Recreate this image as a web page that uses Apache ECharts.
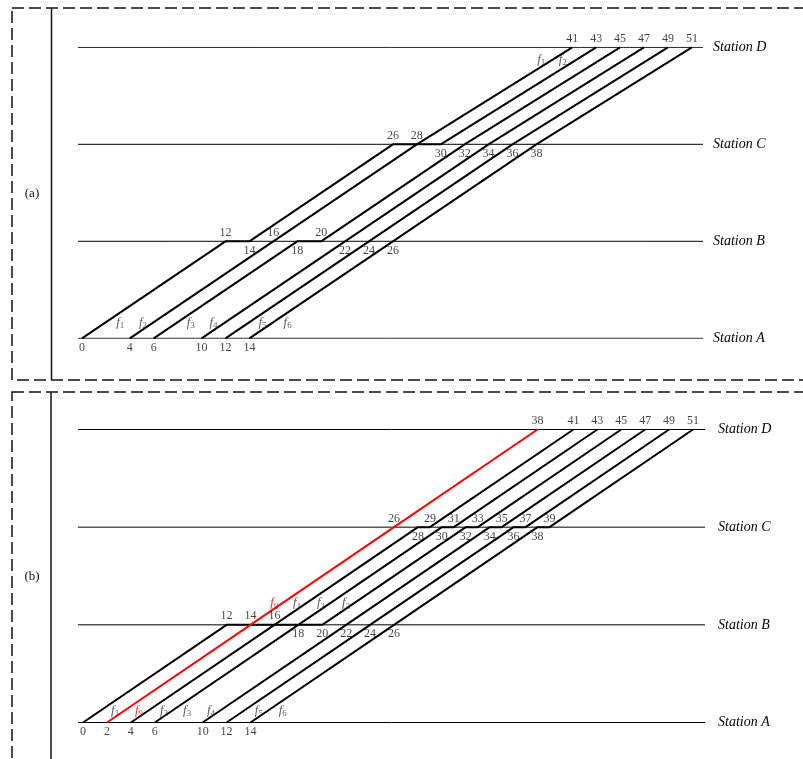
<!DOCTYPE html>
<html>
<head>
<meta charset="utf-8">
<script src="https://cdn.jsdelivr.net/npm/echarts@6/dist/echarts.min.js"></script>
<style>
html,body{margin:0;padding:0;background:#fff;}
#chart{width:803px;height:759px;}
</style>
</head>
<body>
<div id="chart"></div>
<script>
// ---------- data ----------
const stations = ['Station A', 'Station B', 'Station C', 'Station D'];

// Panel (a): train paths [time, stationIndex]
const a_f1 = [[0,0],[12,1],[14,1],[26,2],[28,2],[41,3]];
const a_f2 = [[4,0],[16,1],[28,2],[30,2],[43,3]];
const a_f3 = [[6,0],[18,1],[20,1],[32,2],[45,3]];
const a_f4 = [[10,0],[22,1],[34,2],[47,3]];
const a_f5 = [[12,0],[24,1],[36,2],[49,3]];
const a_f6 = [[14,0],[26,1],[38,2],[51,3]];

// Panel (a): time labels
const a_A_below = [0,4,6,10,12,14];
const a_B_above = [12,16,20];
const a_B_below = [14,18,22,24,26];
const a_C_above = [26,28];
const a_C_below = [30,32,34,36,38];
const a_D_above = [41,43,45,47,49,51];

// Panel (a): train name annotations [time, station, subscript]
const a_names = [[3.2,0.165,'1'],[5.1,0.165,'2'],[9.1,0.165,'3'],[11.0,0.165,'4'],[15.1,0.165,'5'],[17.2,0.165,'6'],
                 [38.4,2.876,'1'],[40.2,2.876,'2']];

// Panel (b): train paths
const b_f1 = [[0,0],[12,1],[16,1],[28,2],[29,2],[41,3]];
const b_f9 = [[2,0],[14,1],[26,2],[38,3]];
const b_f2 = [[4,0],[16,1],[18,1],[30,2],[31,2],[43,3]];
const b_f3 = [[6,0],[18,1],[20,1],[32,2],[33,2],[45,3]];
const b_f4 = [[10,0],[22,1],[34,2],[35,2],[47,3]];
const b_f5 = [[12,0],[24,1],[36,2],[37,2],[49,3]];
const b_f6 = [[14,0],[26,1],[38,2],[39,2],[51,3]];

// Panel (b): time labels
const b_A_below = [0,2,4,6,10,12,14];
const b_B_above = [12,14,16];
const b_B_below = [18,20,22,24,26];
const b_C_above = [26,29,31,33,35,37,39];
const b_C_below = [28,30,32,34,36,38];
const b_D_above = [38,41,43,45,47,49,51];

// Panel (b): train name annotations
const b_names_black = [[2.68,0.123,'1'],[6.77,0.123,'2'],[8.7,0.123,'3'],[10.7,0.123,'4'],[14.7,0.123,'5'],[16.7,0.123,'6'],
                       [17.9,1.226,'1'],[19.9,1.226,'2'],[22.0,1.226,'3']];
const b_names_red = [[4.68,0.123,'9'],[16.0,1.226,'9']];

// axis extents (time units)
const a_range = [-0.33, 51.93];
const b_range = [-0.42, 52.0];

// ---------- build ----------
const SERIF = "'Liberation Serif', 'Times New Roman', serif";

function trainSeries(g, path, color) {
  return { type: 'line', xAxisIndex: g, yAxisIndex: g, data: path, symbol: 'none', silent: true,
           lineStyle: { color: color, width: 2 }, z: 3 };
}
function stationSeries(g, range) {
  return stations.map((s, i) => ({
    type: 'line', xAxisIndex: g, yAxisIndex: g, symbol: 'none', silent: true,
    data: [[range[0], i], [range[1], i]], lineStyle: { color: '#000', width: 1 }, z: 2
  }));
}
function timeLabels(g, times, st, pos) {
  return { type: 'scatter', xAxisIndex: g, yAxisIndex: g, symbolSize: 1, silent: true,
    itemStyle: { color: 'transparent' },
    data: times.map(t => [t, st]),
    label: { show: true, position: pos, distance: pos === 'top' ? 2 : 3,
      formatter: p => String(p.value[0]), fontFamily: SERIF, fontSize: 12, color: '#111' }, z: 5 };
}
function nameLabels(g, list, color) {
  return { type: 'scatter', xAxisIndex: g, yAxisIndex: g, symbolSize: 1, silent: true,
    itemStyle: { color: 'transparent' },
    data: list.map(d => ({ value: [d[0], d[1]], sub: d[2] })),
    label: { show: true, position: 'inside',
      formatter: p => '{i|f}{s|' + p.data.sub + '}',
      rich: {
        i: { fontFamily: SERIF, fontStyle: 'italic', fontSize: 13, color: color, lineHeight: 16 },
        s: { fontFamily: SERIF, fontSize: 9, color: color, lineHeight: 9, verticalAlign: 'bottom' }
      } }, z: 6 };
}

const yAxisCommon = (g, margin) => ({
  type: 'value', gridIndex: g, min: 0, max: 3, interval: 1, position: 'right',
  axisLine: { show: false }, axisTick: { show: false }, splitLine: { show: false },
  axisLabel: { show: true, margin: margin, formatter: v => stations[v] || '',
    fontFamily: SERIF, fontStyle: 'italic', fontSize: 14, color: '#000' }
});

const series = [].concat(
  stationSeries(0, a_range),
  [a_f1, a_f2, a_f3, a_f4, a_f5, a_f6].map(p => trainSeries(0, p, '#000')),
  [timeLabels(0, a_A_below, 0, 'bottom'), timeLabels(0, a_B_above, 1, 'top'), timeLabels(0, a_B_below, 1, 'bottom'),
   timeLabels(0, a_C_above, 2, 'top'), timeLabels(0, a_C_below, 2, 'bottom'), timeLabels(0, a_D_above, 3, 'top'),
   nameLabels(0, a_names, '#333')],
  stationSeries(1, b_range),
  [b_f1, b_f2, b_f3, b_f4, b_f5, b_f6].map(p => trainSeries(1, p, '#000')),
  [trainSeries(1, b_f9, '#ff0000')],
  [timeLabels(1, b_A_below, 0, 'bottom'), timeLabels(1, b_B_above, 1, 'top'), timeLabels(1, b_B_below, 1, 'bottom'),
   timeLabels(1, b_C_above, 2, 'top'), timeLabels(1, b_C_below, 2, 'bottom'), timeLabels(1, b_D_above, 3, 'top'),
   nameLabels(1, b_names_black, '#333'), nameLabels(1, b_names_red, '#ff0000')]
);

const chart = echarts.init(document.getElementById('chart'), null, { renderer: 'canvas' });
chart.setOption({
  backgroundColor: '#fff',
  animation: false,
  grid: [
    { left: 78, top: 47.3, width: 625, height: 291 },
    { left: 78, top: 429.5, width: 627, height: 293 }
  ],
  xAxis: [
    { type: 'value', gridIndex: 0, min: a_range[0], max: a_range[1], show: false },
    { type: 'value', gridIndex: 1, min: b_range[0], max: b_range[1], show: false }
  ],
  yAxis: [ yAxisCommon(0, 10), yAxisCommon(1, 13) ],
  series: series,
  graphic: [
    { type: 'rect', silent: true, shape: { x: 12, y: 8, width: 800, height: 372 },
      style: { fill: 'none', stroke: '#111', lineWidth: 1.5, lineDash: [12, 5] } },
    { type: 'rect', silent: true, shape: { x: 12, y: 392, width: 800, height: 420 },
      style: { fill: 'none', stroke: '#111', lineWidth: 1.5, lineDash: [12, 5] } },
    { type: 'line', silent: true, shape: { x1: 51.5, y1: 8, x2: 51.5, y2: 380 },
      style: { stroke: '#111', lineWidth: 1.5 } },
    { type: 'line', silent: true, shape: { x1: 51, y1: 392, x2: 51, y2: 759 },
      style: { stroke: '#111', lineWidth: 1.5 } },
    { type: 'text', silent: true, x: 32, y: 194,
      style: { text: '(a)', font: "13px 'Liberation Serif', serif", fill: '#111', textAlign: 'center', textVerticalAlign: 'middle' } },
    { type: 'text', silent: true, x: 32, y: 577,
      style: { text: '(b)', font: "13px 'Liberation Serif', serif", fill: '#111', textAlign: 'center', textVerticalAlign: 'middle' } }
  ]
});
</script>
</body>
</html>
